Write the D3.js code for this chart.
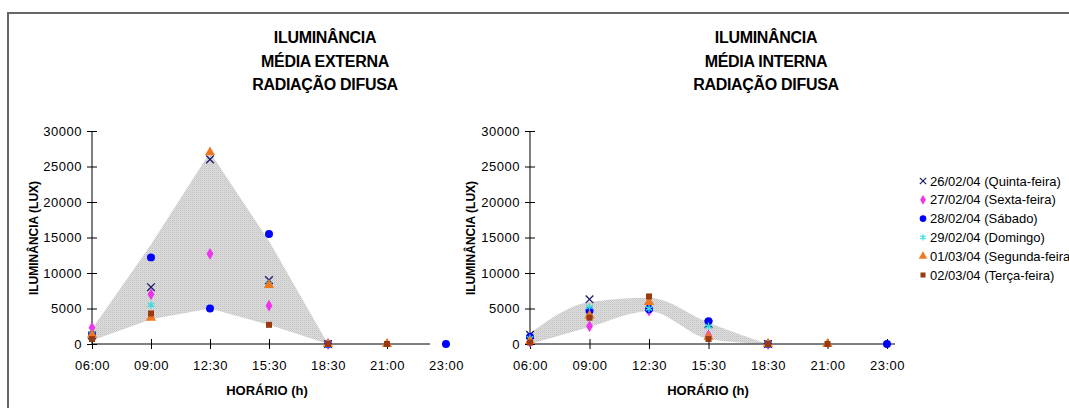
<!DOCTYPE html>
<html>
<head>
<meta charset="utf-8">
<script src="https://cdn.jsdelivr.net/npm/d3@7"></script>
<style>
body{margin:0;background:#fff;}
text{font-family:'Liberation Sans',Arial,sans-serif;fill:#000;}
</style>
</head>
<body>
<div id="canvas"></div>
<script>
//    data
var horarios = ['06:00','09:00','12:30','15:30','18:30','21:00','23:00'];
var dias = ['26/02/04 (Quinta-feira)','27/02/04 (Sexta-feira)','28/02/04 (Sábado)',
            '29/02/04 (Domingo)','01/03/04 (Segunda-feira)','02/03/04 (Terça-feira)'];
var yTicks = [0,5000,10000,15000,20000,25000,30000];

// média externa
var extQui = [1200, 8000, 26000, 9000, 0, null, null];
var extSex = [2300, 7000, 12700, 5400, 0, null, null];
var extSab = [1300, 12200, 5000, 15500, 0, null, 0];
var extDom = [1500, 5500, null, 8500, 0, null, null];
var extSeg = [1300, 3700, 27000, 8300, 0, 0, null];
var extTer = [700, 4300, null, 2700, 0, 0, null];
// faixa sombreada (06:00 .. 18:30)
var extMax = [2100, 14000, 27000, 14500, 0];
var extMin = [500, 3500, 5000, 2700, 0];

// média interna
var intQui = [1300, 6300, 5200, 2800, 0, null, null];
var intSex = [300, 2500, 4700, 1200, 0, null, null];
var intSab = [1000, 4700, 4900, 3200, 0, null, 0];
var intDom = [800, 5200, 5000, 2500, 0, null, null];
var intSeg = [400, 4000, 5900, 1000, 0, 0, null];
var intTer = [200, 3700, 6700, 700, 0, 0, null];
var intMax = [1500, 5900, 6500, 3000, 0];
var intMin = [0, 2400, 4600, 700, 0];

//    styles per dia
var estilos = [
  {sym:d3.symbolTimes, size:40, stroke:'#1a1a6e', fill:'none'},
  {sym:d3.symbolDiamond, size:40, stroke:'none', fill:'#ee33ee'},
  {sym:d3.symbolCircle, size:50, stroke:'none', fill:'#0000ff'},
  {sym:d3.symbolAsterisk, size:40, stroke:'#33dddd', fill:'none'},
  {sym:d3.symbolTriangle, size:45, stroke:'none', fill:'#f07820'},
  {sym:d3.symbolSquare, size:36, stroke:'none', fill:'#9a3a10'}
];

var svg = d3.select('#canvas')
    .append('svg')
    .attr('width',1069)
    .attr('height',408);

//    dither pattern for the shaded band
var pat = svg.append('defs').append('pattern')
    .attr('id','dither')
    .attr('width',2).attr('height',2)
    .attr('patternUnits','userSpaceOnUse');
pat.append('rect').attr('width',2).attr('height',2).attr('fill','#dedede');
pat.append('rect').attr('width',1).attr('height',1).attr('fill','#c2c2c2');
pat.append('rect').attr('x',1).attr('y',1).attr('width',1).attr('height',1).attr('fill','#cfcfcf');

//    frame
svg.append('path')
    .attr('d','M8,408 L8,13 L1069,13')
    .attr('fill','none')
    .attr('stroke','#666')
    .attr('stroke-width',2);

function desenha(cfg){
    var x = d3.scalePoint().domain(horarios).range(cfg.xr);
    var y = d3.scaleLinear().domain([0,30000]).range([344,131]);
    var series = cfg.series;
    var g = svg.append('g');

    // titles
    cfg.title.forEach(function(t,i){
        g.append('text')
            .attr('x',cfg.tx)
            .attr('y',43+i*23.5)
            .attr('text-anchor','middle')
            .style('font-size','16px')
            .style('font-weight','bold')
            .style('letter-spacing','-0.3px')
            .text(t);
    });

    // shaded band
    var env = cfg.hi.map(function(v,i){return {h:horarios[i], hi:v, lo:cfg.lo[i]};});
    var area = d3.area()
        .x(function(d){return x(d.h);})
        .y0(function(d){return y(d.lo);})
        .y1(function(d){return y(d.hi);})
        .curve(cfg.curve);
    g.append('path')
        .datum(env)
        .attr('d',area)
        .attr('fill','url(#dither)');

    // y axis
    var ya = g.append('g')
        .attr('transform','translate('+cfg.xr[0]+',0)')
        .call(d3.axisLeft(y).tickValues(yTicks).tickFormat(d3.format('d')).tickSize(5).tickPadding(5));
    ya.select('.domain').remove();
    ya.selectAll('.tick line').attr('x1',-5).attr('x2',5).attr('stroke','#000');
    ya.selectAll('.tick text').style('font-size','13px').style('letter-spacing','0.5px')
        .style('font-family',"'Liberation Sans',Arial,sans-serif");
    ya.append('line').attr('x1',0).attr('x2',0).attr('y1',131).attr('y2',344).attr('stroke','#000');

    // x axis
    var xa = g.append('g')
        .attr('transform','translate(0,344)')
        .call(d3.axisBottom(x).tickSize(5).tickPadding(12));
    xa.select('.domain').remove();
    xa.selectAll('.tick line').attr('y1',-5).attr('y2',5).attr('stroke','#000')
        .filter(function(d){return x(d)>cfg.xEnd;}).remove();
    xa.selectAll('.tick text').style('font-size','13px').style('letter-spacing','0.5px')
        .style('font-family',"'Liberation Sans',Arial,sans-serif");
    xa.append('line').attr('x1',cfg.xr[0]).attr('x2',cfg.xEnd).attr('y1',0).attr('y2',0).attr('stroke','#000');

    // axis labels
    g.append('text')
        .attr('transform','translate('+cfg.ylx+',238) rotate(-90)')
        .attr('text-anchor','middle')
        .style('font-size','12px')
        .style('font-weight','bold')
        .text('ILUMINÂNCIA (LUX)');
    g.append('text')
        .attr('x',cfg.xlx)
        .attr('y',395)
        .attr('text-anchor','middle')
        .style('font-size','13px')
        .style('font-weight','bold')
        .text('HORÁRIO (h)');

    // points
    series.forEach(function(s,k){
        var st = estilos[k];
        var pts = horarios.map(function(h,i){return {h:h, v:s[i]};})
            .filter(function(d){return d.v!=null;});
        g.selectAll('.p'+k)
            .data(pts)
            .enter()
            .append('path')
            .attr('transform',function(d){return 'translate('+x(d.h)+','+y(d.v)+')';})
            .attr('d',d3.symbol().type(st.sym).size(st.size))
            .attr('fill',st.fill)
            .attr('stroke',st.stroke)
            .attr('stroke-width',1.3);
    });
}

desenha({
    series:[extQui,extSex,extSab,extDom,extSeg,extTer],
    hi:extMax, lo:extMin, curve:d3.curveLinear,
    xr:[92,446], xEnd:430,
    title:['ILUMINÂNCIA','MÉDIA EXTERNA','RADIAÇÃO DIFUSA'], tx:325,
    ylx:38, xlx:267
});
desenha({
    series:[intQui,intSex,intSab,intDom,intSeg,intTer],
    hi:intMax, lo:intMin, curve:d3.curveMonotoneX,
    xr:[530,887], xEnd:895,
    title:['ILUMINÂNCIA','MÉDIA INTERNA','RADIAÇÃO DIFUSA'], tx:766,
    ylx:475, xlx:708
});

//    legend
var leg = svg.selectAll('.legend')
    .data(dias)
    .enter()
    .append('g')
    .attr('class','legend')
    .attr('transform',function(d,i){return 'translate(923,'+(181+i*18.8)+')';});
leg.append('path')
    .attr('d',function(d,i){return d3.symbol().type(estilos[i].sym).size(estilos[i].size*0.7)();})
    .attr('fill',function(d,i){return estilos[i].fill;})
    .attr('stroke',function(d,i){return estilos[i].stroke;})
    .attr('stroke-width',1.2);
leg.append('text')
    .attr('x',7)
    .attr('y',4.5)
    .style('font-size','13px')
    .text(function(d){return d;});
</script>
</body>
</html>
